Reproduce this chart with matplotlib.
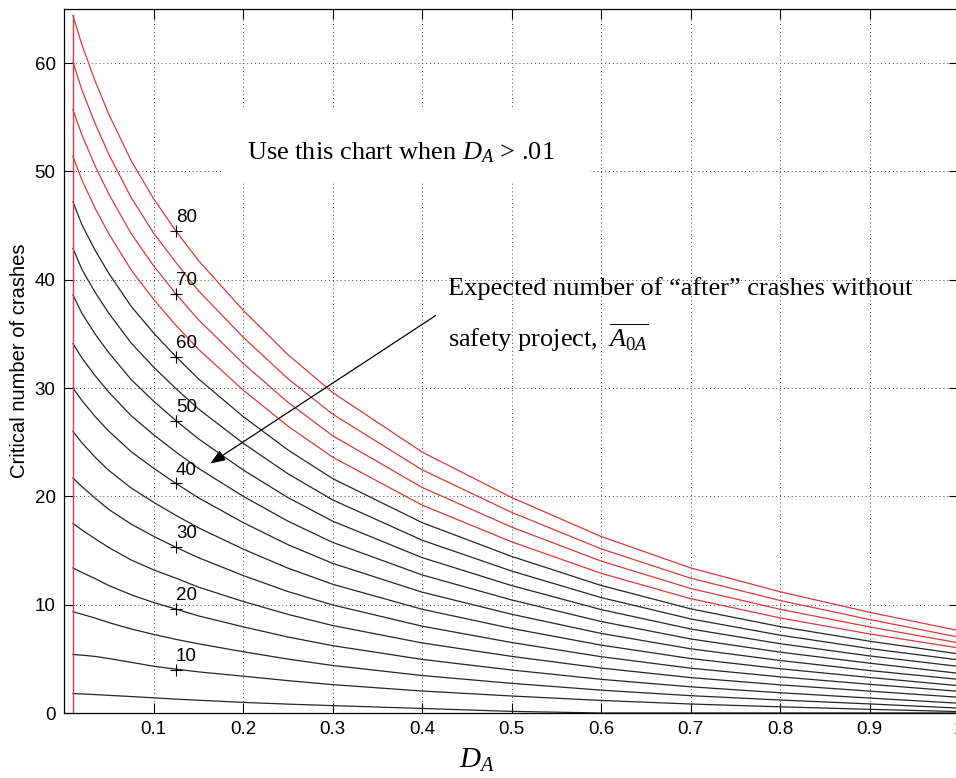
import numpy as np
import matplotlib
matplotlib.use("Agg")
import matplotlib.pyplot as plt
from matplotlib.patches import Rectangle, FancyArrowPatch

plt.rcParams["font.family"] = ["Liberation Sans", "DejaVu Sans"]
plt.rcParams["mathtext.fontset"] = "custom"
plt.rcParams["mathtext.rm"] = "Liberation Serif"
plt.rcParams["mathtext.it"] = "Liberation Serif:italic"

# D_A sample points
d_a = [0.01, 0.02, 0.035, 0.05, 0.075, 0.1, 0.125, 0.15, 0.2, 0.25,
       0.3, 0.4, 0.5, 0.6, 0.7, 0.8, 0.9, 1.0]

# expected "after" crashes for each curve, bottom to top
a0a = [5, 10, 15, 20, 25, 30, 35, 40, 45, 50, 55, 60, 65, 70, 75, 80]

# critical number of crashes, one row per curve
crit = [
    [1.8, 1.76, 1.7, 1.63, 1.52, 1.4, 1.28, 1.18, 0.98, 0.82, 0.68, 0.42, 0.15, 0.0, 0.0, 0.0, 0.0, 0.0],
    [5.4, 5.34, 5.22, 5.03, 4.68, 4.32, 4.05, 3.8, 3.4, 2.99, 2.62, 2.03, 1.57, 1.16, 0.83, 0.57, 0.34, 0.13],
    [9.35, 9.12, 8.76, 8.35, 7.76, 7.26, 6.8, 6.39, 5.66, 4.98, 4.39, 3.46, 2.74, 2.11, 1.6, 1.2, 0.84, 0.45],
    [13.4, 12.98, 12.4, 11.77, 10.92, 10.2, 9.6, 8.97, 7.96, 7.02, 6.22, 4.95, 3.97, 3.11, 2.42, 1.87, 1.38, 0.9],
    [17.5, 16.9, 16.08, 15.28, 14.13, 13.22, 12.45, 11.63, 10.3, 9.11, 8.08, 6.47, 5.23, 4.15, 3.27, 2.6, 2.02, 1.45],
    [21.7, 20.9, 19.82, 18.8, 17.44, 16.32, 15.3, 14.35, 12.7, 11.22, 9.98, 8.02, 6.51, 5.2, 4.14, 3.34, 2.65, 2.0],
    [26.0, 24.95, 23.6, 22.4, 20.78, 19.46, 18.25, 17.11, 15.14, 13.38, 11.89, 9.58, 7.81, 6.27, 5.03, 4.09, 3.28, 2.52],
    [30.0, 28.85, 27.35, 26.03, 24.13, 22.61, 21.2, 19.88, 17.59, 15.55, 13.82, 11.16, 9.12, 7.35, 5.93, 4.85, 3.92, 3.1],
    [34.1, 32.78, 31.12, 29.63, 27.45, 25.7, 24.1, 22.6, 20.02, 17.72, 15.76, 12.75, 10.44, 8.45, 6.84, 5.62, 4.6, 3.66],
    [38.6, 36.9, 34.96, 33.27, 30.79, 28.8, 27.0, 25.33, 22.45, 19.9, 17.72, 14.35, 11.77, 9.55, 7.76, 6.4, 5.27, 4.3],
    [42.9, 40.96, 38.81, 36.92, 34.16, 31.95, 29.95, 28.09, 24.92, 22.1, 19.68, 15.96, 13.11, 10.66, 8.69, 7.19, 5.95, 4.9],
    [47.2, 45.08, 42.69, 40.6, 37.55, 35.1, 32.9, 30.87, 27.38, 24.3, 21.65, 17.58, 14.46, 11.78, 9.62, 7.98, 6.63, 5.45],
    [51.4, 49.22, 46.57, 44.26, 40.91, 38.2, 35.8, 33.6, 29.83, 26.5, 23.63, 19.2, 15.81, 12.9, 10.56, 8.78, 7.3, 6.0],
    [55.7, 53.37, 50.47, 47.93, 44.26, 41.3, 38.7, 36.33, 32.29, 28.7, 25.61, 20.83, 17.17, 14.03, 11.5, 9.58, 7.95, 6.47],
    [60.1, 57.53, 54.38, 51.59, 47.59, 44.33, 41.6, 39.01, 34.71, 30.88, 27.6, 22.46, 18.53, 15.16, 12.45, 10.39, 8.63, 7.0],
    [64.4, 61.7, 58.3, 55.3, 51.0, 47.5, 44.5, 41.8, 37.2, 33.1, 29.6, 24.1, 19.9, 16.3, 13.4, 11.2, 9.3, 7.6],
]

# "+" marks with labels at D_A = 0.125
mark_d = 0.125
mark_labels = ["10", "20", "30", "40", "50", "60", "70", "80"]
mark_vals = [4.0, 9.6, 15.3, 21.2, 27.0, 32.9, 38.7, 44.5]

n_red = 4  # top curves drawn in red
red = "#d63a3a"
dark = "#262626"

W, H = 956, 778
fig = plt.figure(figsize=(W / 100, H / 100), dpi=100)
ax = fig.add_axes([64 / W, 65 / H, 895 / W, 704 / H])

for i, row in enumerate(crit):
    col = red if i >= len(crit) - n_red else dark
    ax.plot(d_a, row, color=col, lw=0.9)

# vertical edge of the curves at D_A = .01
ax.plot([d_a[0], d_a[0]], [0, crit[-1][0]], color=red, lw=1.0)

ax.plot([mark_d] * len(mark_vals), mark_vals, "+", color="k", ms=9, mew=0.8)
for lab, v in zip(mark_labels, mark_vals):
    ax.annotate(lab, (mark_d, v), xytext=(0, 3.5), textcoords="offset points",
                ha="left", va="bottom", fontsize=13.5)

ax.set_xlim(0, 1)
ax.set_ylim(0, 65)
ax.set_xticks(np.arange(1, 11) / 10)
ax.set_xticklabels(["0.1", "0.2", "0.3", "0.4", "0.5", "0.6", "0.7", "0.8", "0.9", "1"])
ax.set_yticks(range(0, 61, 10))
ax.tick_params(direction="in", length=7, width=0.8, labelsize=13.5,
               top=True, right=True, pad=6)
ax.grid(True, color="#444444", linestyle=(0, (1, 3)), lw=0.7)
for s in ax.spines.values():
    s.set_linewidth(0.9)

ax.set_ylabel("Critical number of crashes", fontsize=14.5, labelpad=4)

fig.text(477 / W, 1 - 768 / H, "$D_A$", fontsize=21, ha="center", va="baseline")


def px(x, y):
    return x / W, 1 - y / H


# white patch behind the first note
fig.add_artist(Rectangle(px(223, 182), 367 / W, 75 / H, transform=fig.transFigure,
                         facecolor="white", edgecolor="none"))
fig.text(*px(247, 159), "Use this chart when $D_A$ > .01",
         family="Liberation Serif", fontsize=19, ha="left", va="baseline")

fig.text(*px(448, 295), "Expected number of \u201cafter\u201d crashes without",
         family="Liberation Serif", fontsize=19, ha="left", va="baseline")
fig.text(*px(448, 347), r"safety project, $\;\overline{A_{0A}}$",
         family="Liberation Serif", fontsize=19, ha="left", va="baseline")

fig.add_artist(FancyArrowPatch(
    px(438, 314), px(208, 465), transform=fig.transFigure,
    arrowstyle="-|>,head_length=9,head_width=3.5", color="k", lw=0.9))

fig.savefig("out.png", dpi=100)
